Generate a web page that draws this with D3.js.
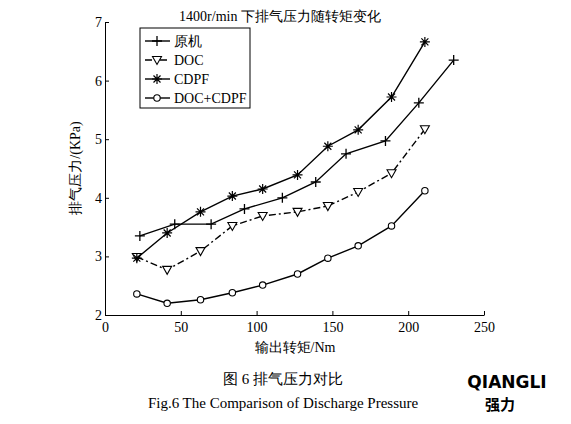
<!DOCTYPE html><html><head><meta charset="utf-8"><script src="https://cdn.jsdelivr.net/npm/d3@7"></script>
<style>body{margin:0;background:#fff}</style></head><body><svg id="c" width="571" height="424"></svg>
<script>
const xTicks=[0,50,100,150,200,250];
const yTicks=[2,3,4,5,6,7];
const seriesNames=["原机","DOC","CDPF","DOC+CDPF"];
const xYuan=[23,46,70,92,117,139,159,185,207,230];
const yYuan=[3.35,3.55,3.55,3.81,4.0,4.27,4.75,4.97,5.62,6.35];
const xOther=[21,41,63,84,104,127,147,167,189,211];
const yDOC=[2.99,2.77,3.09,3.52,3.69,3.76,3.86,4.10,4.42,5.17];
const yCDPF=[2.97,3.40,3.76,4.03,4.15,4.39,4.88,5.16,5.72,6.66];
const yBoth=[2.36,2.20,2.26,2.38,2.51,2.70,2.97,3.18,3.52,4.12];
const svg=d3.select("#c");
const x=d3.scaleLinear().domain([0,250]).range([105,484]);
const y=d3.scaleLinear().domain([2,7]).range([315,22]);
const font="Liberation Serif, DejaVu Serif, serif";
svg.append("g").attr("transform","translate(0,315)").call(d3.axisBottom(x).tickValues(xTicks).tickFormat(d3.format("d")).tickSizeInner(-4).tickSizeOuter(0))
 .call(g=>g.selectAll("text").attr("font-size",14).attr("font-family",font).attr("dy","1em"));
svg.append("g").attr("transform","translate(105,0)").call(d3.axisLeft(y).tickValues(yTicks).tickFormat(d3.format("d")).tickSizeInner(-4).tickSizeOuter(0))
 .call(g=>g.selectAll("text").attr("font-size",14).attr("font-family",font));
svg.selectAll(".domain").attr("stroke","#000");
const ln=d3.line().x(d=>x(d[0])).y(d=>y(d[1]));
const data=[
 {xs:xYuan,ys:yYuan,dash:null,m:"plus"},
 {xs:xOther,ys:yDOC,dash:"7,3,2,3",m:"tri"},
 {xs:xOther,ys:yCDPF,dash:null,m:"star"},
 {xs:xOther,ys:yBoth,dash:null,m:"circ"}];
function marker(g,m,cx,cy){
 if(m==="plus"){g.append("path").attr("d",`M${cx-5},${cy}H${cx+5}M${cx},${cy-5}V${cy+5}`).attr("stroke","#000").attr("stroke-width",1.3);}
 if(m==="tri"){g.append("path").attr("d",`M${cx-4.5},${cy-3.5}H${cx+4.5}L${cx},${cy+4.5}Z`).attr("fill","#fff").attr("stroke","#000").attr("stroke-width",1.1);}
 if(m==="star"){g.append("path").attr("d",`M${cx-5},${cy}H${cx+5}M${cx},${cy-5}V${cy+5}M${cx-3.5},${cy-3.5}L${cx+3.5},${cy+3.5}M${cx-3.5},${cy+3.5}L${cx+3.5},${cy-3.5}`).attr("stroke","#000").attr("stroke-width",1.2);}
 if(m==="circ"){g.append("circle").attr("cx",cx).attr("cy",cy).attr("r",3.2).attr("fill","#fff").attr("stroke","#000").attr("stroke-width",1.1);}
}
data.forEach(s=>{
 const pts=s.xs.map((v,i)=>[v,s.ys[i]]);
 svg.append("path").attr("d",ln(pts)).attr("fill","none").attr("stroke","#000").attr("stroke-width",1.4).attr("stroke-dasharray",s.dash);
 const g=svg.append("g");
 pts.forEach(p=>marker(g,s.m,x(p[0]),y(p[1])));
});
svg.append("text").attr("x",280).attr("y",21).attr("text-anchor","middle").attr("font-size",14).attr("font-family",font).text("1400r/min 下排气压力随转矩变化");
svg.append("rect").attr("x",140).attr("y",28).attr("width",110).attr("height",80).attr("fill","#fff").attr("stroke","#000");
seriesNames.forEach((n,i)=>{
 const ly=41+i*19;
 svg.append("line").attr("x1",145).attr("x2",170).attr("y1",ly).attr("y2",ly).attr("stroke","#000").attr("stroke-width",1.4).attr("stroke-dasharray",data[i].dash);
 marker(svg.append("g"),data[i].m,157,ly);
 svg.append("text").attr("x",174).attr("y",ly+5).attr("font-size",14).attr("font-family",font).text(n);
});
svg.append("text").attr("x",295).attr("y",352).attr("text-anchor","middle").attr("font-size",14).attr("font-family",font).text("输出转矩/Nm");
svg.append("text").attr("transform","translate(80,168) rotate(-90)").attr("text-anchor","middle").attr("font-size",14).attr("font-family",font).text("排气压力/(KPa)");
svg.append("text").attr("x",283).attr("y",384).attr("text-anchor","middle").attr("font-size",15).attr("font-family",font).text("图 6  排气压力对比");
svg.append("text").attr("x",283).attr("y",408).attr("text-anchor","middle").attr("font-size",15).attr("font-family",font).text("Fig.6 The Comparison of Discharge Pressure");
svg.append("text").attr("x",507).attr("y",388).attr("text-anchor","middle").attr("font-size",17).attr("font-weight","bold").attr("font-family","DejaVu Sans, sans-serif").text("QIANGLI");
svg.append("text").attr("x",500).attr("y",410).attr("text-anchor","middle").attr("font-size",15).attr("font-weight","bold").attr("font-family","Noto Sans CJK SC").text("强力");
</script></body></html>
